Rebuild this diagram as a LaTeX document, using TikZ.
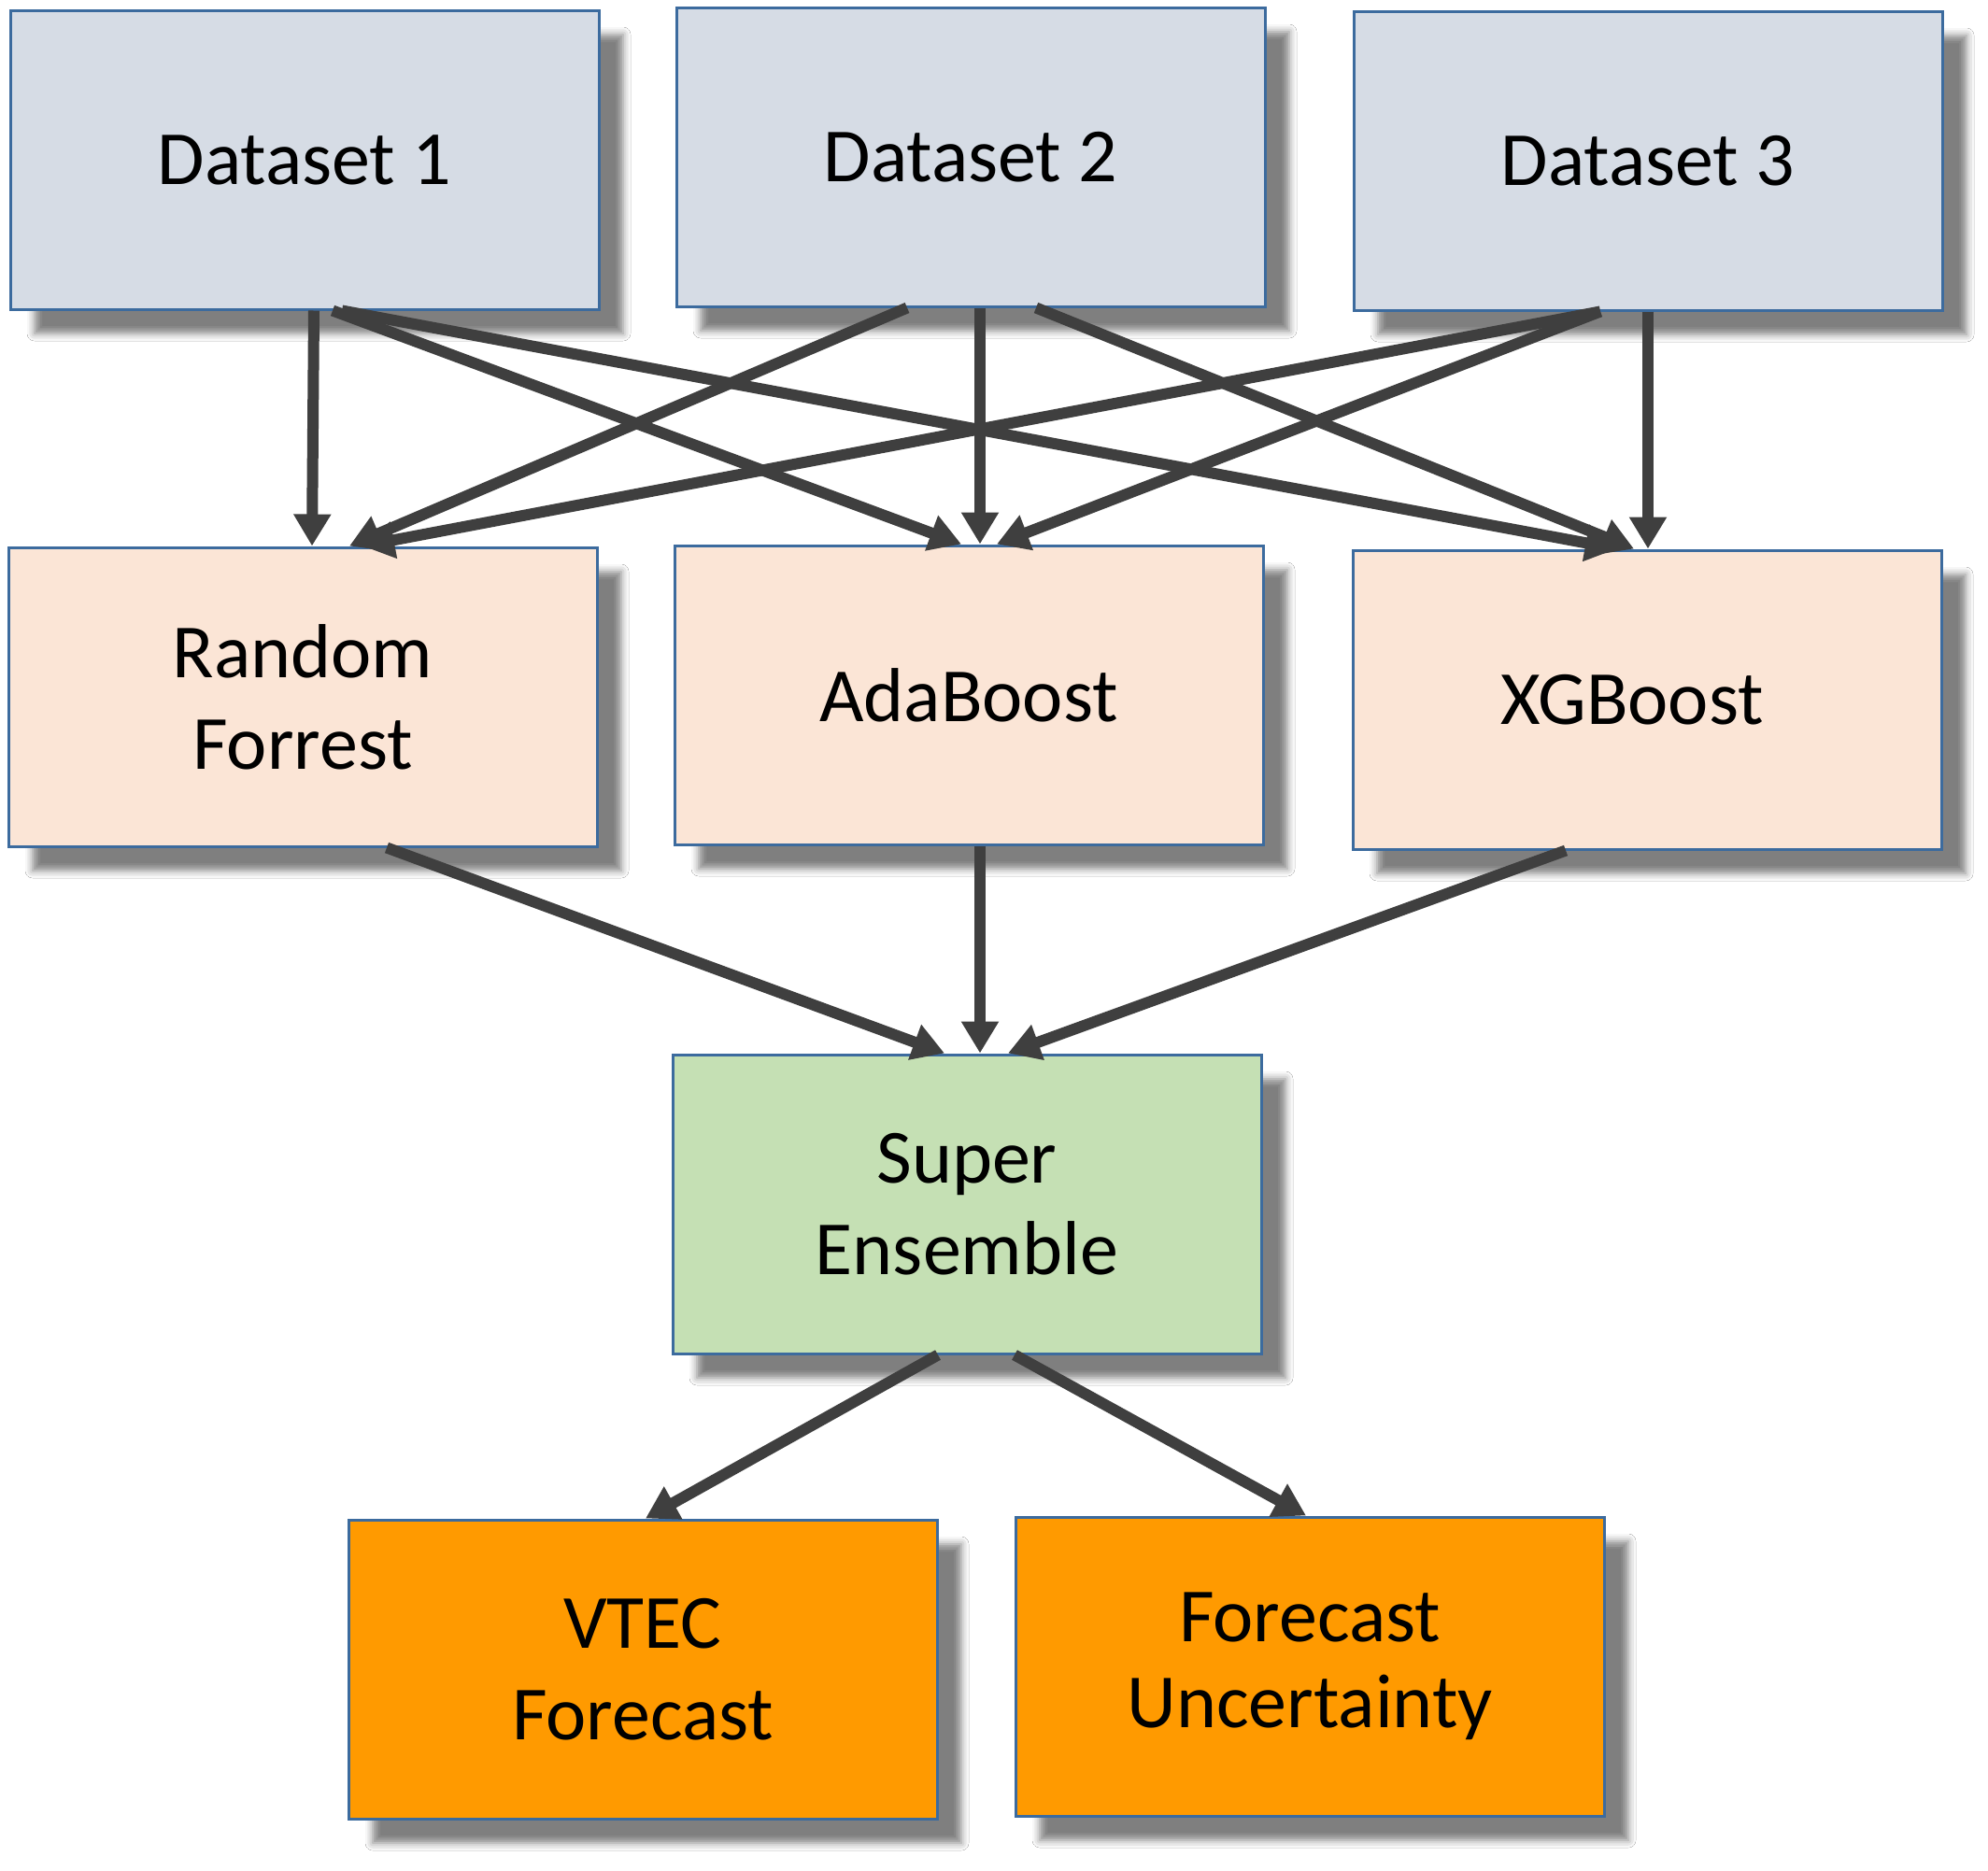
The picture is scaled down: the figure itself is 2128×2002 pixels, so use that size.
\documentclass[tikz,border=0pt]{standalone}
\usepackage{fontspec}
\setmainfont{Carlito}
\usetikzlibrary{arrows.meta,calc,shadows.blur}
\definecolor{dsfill}{HTML}{D6DCE5}
\definecolor{mdfill}{HTML}{FBE5D6}
\definecolor{sefill}{HTML}{C5E0B4}
\definecolor{outfill}{HTML}{FF9A00}
\definecolor{bordercol}{HTML}{3C6B9E}
\definecolor{arrcol}{HTML}{3F3F3F}
\tikzset{
  box/.style={draw=bordercol, line width=1.5pt, minimum width=315pt, minimum height=160pt,
    align=center, inner sep=0pt, font=\fontsize{41}{49}\selectfont,
    blur shadow={shadow xshift=13pt, shadow yshift=-13pt, shadow blur radius=4pt, shadow opacity=50}},
  dsbox/.style={box, fill=dsfill},
  mdbox/.style={box, fill=mdfill},
  sebox/.style={box, fill=sefill},
  outbox/.style={box, fill=outfill},
  arr/.style={draw=arrcol, line width=6pt, -{Triangle[width=19pt,length=17pt]}}
}
\begin{document}
\begin{tikzpicture}[x=0.5pt,y=-0.5pt]
\useasboundingbox (0,0) rectangle (2128,2002);
\fill[white] (0,0) rectangle (2128,2002);
% nodes
\node[dsbox] (d1) at (326,171) {Dataset 1};
\node[dsbox] (d2) at (1039,168) {Dataset 2};
\node[dsbox] (d3) at (1764,172) {Dataset 3};
\node[mdbox] (rf) at (324,746) {Random\\Forrest};
\node[mdbox] (ada) at (1037,744) {AdaBoost};
\node[mdbox] (xgb) at (1763,749) {\hspace*{-16pt}XGBoost};
\node[sebox] (se) at (1035,1289) {Super\\Ensemble};
\node[outbox] (vtec) at (688,1787) {VTEC\\Forecast};
\node[outbox] (fu) at (1402,1784) {\raisebox{-3pt}{Forecast}\\Uncertainty};
% dataset -> models
\draw[arr] ($(d1.south)+(10,0)$) -- ($(rf.north)+(10,0)$);
\draw[arr] ($(d1.south)+(30,0)$) -- ($(ada.north)+(-8,0)$);
\draw[arr] ($(d1.south)+(40,0)$) -- ($(xgb.north)+(-32,0)$);
\draw[arr] ($(d2.south)+(-68,0)$) -- ($(rf.north)+(50,0)$);
\draw[arr] ($(d2.south)+(10,0)$) -- ($(ada.north)+(12,0)$);
\draw[arr] ($(d2.south)+(70,0)$) -- ($(xgb.north)+(-14,0)$);
\draw[arr] ($(d3.south)+(-51,0)$) -- ($(rf.north)+(64,0)$);
\draw[arr] ($(d3.south)+(-51,0)$) -- ($(ada.north)+(30,0)$);
\draw[arr] ($(d3.south)+(0,0)$) -- ($(xgb.north)+(1,0)$);
% models -> super ensemble
\draw[arr] ($(rf.south)+(90,0)$) -- ($(se.north)+(-24,0)$);
\draw[arr] ($(ada.south)+(12,0)$) -- ($(se.north)+(14,0)$);
\draw[arr] ($(xgb.south)+(-87,0)$) -- ($(se.north)+(44,0)$);
% super ensemble -> outputs
\draw[arr] ($(se.south)+(-31,0)$) -- ($(vtec.north)+(3,0)$);
\draw[arr] ($(se.south)+(51,0)$) -- ($(fu.north)+(-4,0)$);
\end{tikzpicture}
\end{document}
